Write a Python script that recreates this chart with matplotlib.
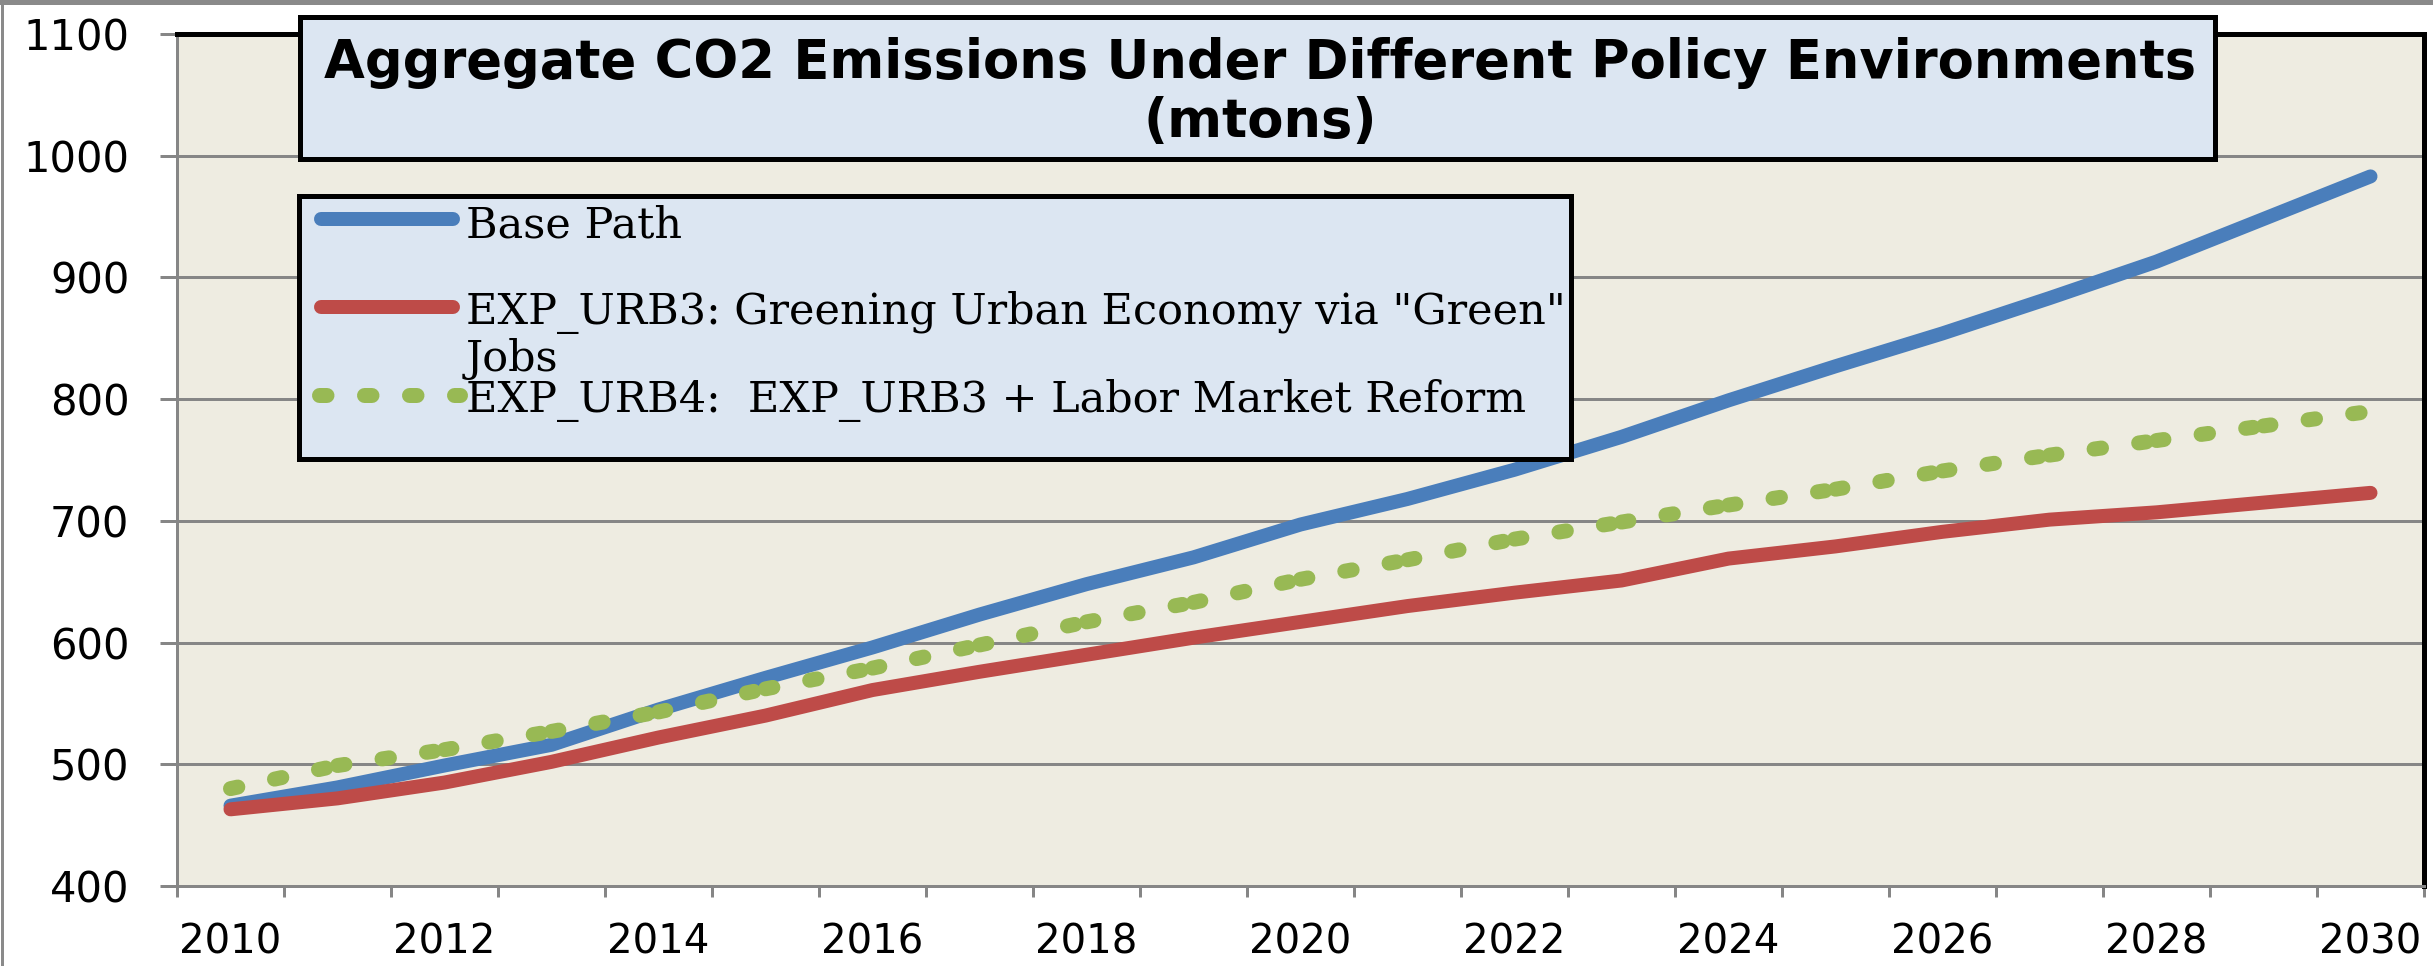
import matplotlib.pyplot as plt
from matplotlib.lines import Line2D
from matplotlib.patches import Rectangle

# values (mtons)
years = list(range(2010, 2031))
base_path = [466, 481, 499, 516, 545, 571, 596, 623, 648, 670, 697,
             718, 742, 769, 799, 827, 854, 883, 913, 948, 983]
exp_urb3 = [463, 472, 485, 502, 522, 540, 561, 576, 590, 604, 617,
            630, 641, 651, 669, 679, 691, 701, 707, 715, 723]
exp_urb4 = [480, 499, 512, 527, 543, 562, 579, 598, 617, 633, 652,
            668, 685, 699, 713, 726, 741, 754, 766, 778, 790]
label_years = list(range(2010, 2031, 2))
y_ticks = list(range(400, 1101, 100))

title_lines = ["Aggregate CO2 Emissions Under Different Policy Environments",
               "(mtons)"]
name_base = "Base Path"
name_urb3 = ['EXP_URB3: Greening Urban Economy via "Green"', "Jobs"]
name_urb4 = "EXP_URB4:  EXP_URB3 + Labor Market Reform"

BLUE = "#4A7EBB"
RED = "#BE4B48"
GREEN = "#98B954"
BOX = "#DCE6F2"
PLOT_BG = "#EEECE1"
GRAY = "#868686"

W, H = 2433, 966
fig = plt.figure(figsize=(W / 100, H / 100), dpi=100)


def fx(px):
    return px / W


def fy(py):
    return 1 - py / H


def pt(px):
    return px * 72 / 100


ax = fig.add_axes([fx(177), fy(886), fx(2424) - fx(177), fy(34) - fy(886)])
ax.set_facecolor(PLOT_BG)

lw_line = pt(14)
dots = (0, (0.5, 2.5))
ax.plot(years, base_path, color=BLUE, lw=lw_line, solid_capstyle="round",
        solid_joinstyle="round", zorder=3)
ax.plot(years, exp_urb3, color=RED, lw=lw_line, solid_capstyle="round",
        solid_joinstyle="round", zorder=3)
# excel restarts the dot pattern at every point, so draw it per segment
for i in range(len(years) - 1):
    ax.plot(years[i:i + 2], exp_urb4[i:i + 2], color=GREEN, lw=pt(15),
            ls=dots, dash_capstyle="round", zorder=3)

ax.set_xlim(2009.5, 2030.5)
ax.set_ylim(400, 1100)
ax.set_yticks(y_ticks)
ax.set_xticks([y - 0.5 for y in years] + [2030.5])
ax.set_xticklabels([])
ax.set_xticks(label_years, minor=True)
ax.set_xticklabels([str(y) for y in label_years], minor=True)

ax.grid(axis="y", color=GRAY, lw=pt(3))
ax.set_axisbelow(True)
ax.tick_params(axis="y", length=pt(17), width=pt(3), color=GRAY, pad=22,
               labelsize=30)
ax.tick_params(axis="x", which="major", length=pt(11), width=pt(3),
               color=GRAY)
ax.tick_params(axis="x", which="minor", length=0, pad=26, labelsize=29)
for side in ["left", "bottom"]:
    ax.spines[side].set_color(GRAY)
    ax.spines[side].set_linewidth(pt(3))
for side in ["top", "right"]:
    ax.spines[side].set_color("black")
    ax.spines[side].set_linewidth(pt(5))

# title box
fig.patches.append(Rectangle((fx(300), fy(159)), fx(2215) - fx(300),
                             fy(17) - fy(159), transform=fig.transFigure,
                             facecolor=BOX, edgecolor="black", lw=pt(5),
                             zorder=5))
title_font = dict(ha="center", va="baseline", fontsize=38, fontweight="bold",
                  family="DejaVu Sans", zorder=6)
fig.text(fx(1260), fy(78), title_lines[0], **title_font)
fig.text(fx(1260), fy(137), title_lines[1], **title_font)

# legend box
fig.patches.append(Rectangle((fx(299), fy(459)), fx(1571) - fx(299),
                             fy(196) - fy(459), transform=fig.transFigure,
                             facecolor=BOX, edgecolor="black", lw=pt(5),
                             zorder=5))
fig.lines.append(Line2D([fx(321), fx(453)], [fy(219), fy(219)],
                        transform=fig.transFigure, color=BLUE, lw=lw_line,
                        solid_capstyle="round", zorder=6))
fig.lines.append(Line2D([fx(321), fx(453)], [fy(307), fy(307)],
                        transform=fig.transFigure, color=RED, lw=lw_line,
                        solid_capstyle="round", zorder=6))
fig.lines.append(Line2D([fx(319), fx(460)], [fy(395), fy(395)],
                        transform=fig.transFigure, color=GREEN, lw=pt(15),
                        ls=dots, dash_capstyle="round", zorder=6))
leg_font = dict(fontsize=31, family="DejaVu Serif", zorder=6)
fig.text(fx(466), fy(237), name_base, va="baseline", **leg_font)
fig.text(fx(466), fy(324), name_urb3[0], va="baseline", **leg_font)
fig.text(fx(466), fy(371), name_urb3[1], va="baseline", **leg_font)
fig.text(fx(466), fy(412), name_urb4, va="baseline", **leg_font)

# outer frame of the pasted picture
fig.lines.append(Line2D([0, 1], [fy(2), fy(2)], transform=fig.transFigure,
                        color="#8A8A8A", lw=pt(5)))
fig.lines.append(Line2D([fx(1.5), fx(1.5)], [0, 1], transform=fig.transFigure,
                        color="#8A8A8A", lw=pt(3)))
fig.lines.append(Line2D([0, 1], [fy(965.5), fy(965.5)],
                        transform=fig.transFigure, color="#DADADA", lw=pt(1)))

fig.savefig("out.png", dpi=100, facecolor="white")
